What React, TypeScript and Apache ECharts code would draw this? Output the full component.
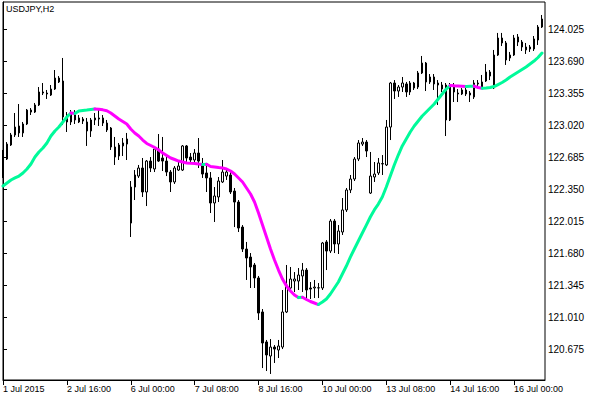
import React, { useEffect, useRef } from "react";
import * as echarts from "echarts";

// ---- data (USDJPY, H2) ----
const chartTitle = "USDJPY,H2";
const xTickLabels = [
  "1 Jul 2015", "2 Jul 16:00", "6 Jul 00:00", "7 Jul 08:00", "8 Jul 16:00",
  "10 Jul 00:00", "13 Jul 08:00", "14 Jul 16:00", "16 Jul 00:00",
];
const barsPerLabel = 16;
const yTickValues = [
  120.675, 121.01, 121.345, 121.68, 122.015, 122.35, 122.685, 123.02, 123.355, 123.69, 124.025,
];

const opens = [
  122.678, 122.667, 122.814, 122.919, 123.013, 122.94, 123.034, 123.159, 123.159, 123.233,
  123.358, 123.358, 123.337, 123.4, 123.515, 123.484, 123.128, 123.055, 123.149, 123.097,
  123.086, 123.055, 122.961, 123.076, 123.086, 123.097, 123.044, 122.992, 122.793, 122.699,
  122.804, 122.824, 121.997, 122.374, 122.489, 122.573, 122.322, 122.646, 122.563, 122.772,
  122.678, 122.646, 122.531, 122.427, 122.552, 122.552, 122.804, 122.688, 122.657, 122.73,
  122.615, 122.521, 122.469, 122.207, 122.27, 122.427, 122.489, 122.5, 122.332, 122.217,
  121.955, 121.725, 121.641, 121.558, 121.422, 121.066, 120.752, 120.605, 120.699, 120.668,
  120.699, 121.066, 121.317, 121.39, 121.39, 121.443, 121.505, 121.317, 121.317, 121.317,
  121.317, 121.799, 121.704, 122.018, 121.778, 121.903, 122.134, 122.343, 122.458, 122.667,
  122.824, 122.845, 122.311, 122.479, 122.521, 122.615, 122.605, 123.002, 123.463, 123.379,
  123.421, 123.453, 123.369, 123.463, 123.421, 123.568, 123.672, 123.474, 123.526, 123.463,
  123.4, 123.442, 123.076, 123.432, 123.348, 123.348, 123.39, 123.358, 123.317, 123.453,
  123.421, 123.484, 123.578, 123.411, 123.756, 123.934, 123.882, 123.725, 123.756, 123.945,
  123.892, 123.809, 123.84, 123.819, 123.913, 124.049,
];
const closes = [
  122.489, 122.824, 122.919, 123.002, 122.94, 123.034, 123.18, 123.18, 123.233, 123.369,
  123.369, 123.348, 123.4, 123.515, 123.474, 123.107, 123.055, 123.149, 123.076, 123.055,
  123.065, 122.961, 123.076, 123.097, 123.097, 123.044, 122.971, 122.793, 122.688, 122.814,
  122.835, 122.877, 122.374, 122.5, 122.573, 122.322, 122.646, 122.573, 122.772, 122.646,
  122.646, 122.531, 122.427, 122.573, 122.594, 122.804, 122.678, 122.657, 122.73, 122.646,
  122.51, 122.469, 122.207, 122.28, 122.437, 122.531, 122.531, 122.322, 122.217, 121.945,
  121.725, 121.631, 121.537, 121.422, 121.055, 120.741, 120.616, 120.699, 120.678, 120.71,
  121.066, 121.348, 121.411, 121.411, 121.453, 121.505, 121.296, 121.306, 121.327, 121.32,
  121.788, 121.704, 122.018, 121.778, 121.914, 122.134, 122.343, 122.458, 122.667, 122.835,
  122.845, 122.751, 122.489, 122.51, 122.626, 122.62, 123.002, 123.463, 123.379, 123.421,
  123.463, 123.369, 123.463, 123.411, 123.568, 123.672, 123.474, 123.526, 123.453, 123.442,
  123.442, 123.076, 123.442, 123.369, 123.358, 123.39, 123.348, 123.337, 123.463, 123.463,
  123.474, 123.578, 123.536, 123.756, 123.934, 123.882, 123.704, 123.756, 123.934, 123.892,
  123.84, 123.84, 123.819, 123.924, 124.049, 124.133,
];
const lows = [
  122.469, 122.657, 122.804, 122.898, 122.898, 122.898, 123.023, 123.128, 123.149, 123.222,
  123.337, 123.296, 123.327, 123.39, 123.463, 123.023, 122.95, 123.023, 123.034, 123.044,
  123.034, 122.804, 122.898, 123.023, 123.013, 123.013, 122.95, 122.762, 122.605, 122.657,
  122.699, 122.657, 121.851, 122.238, 122.469, 122.27, 122.175, 122.531, 122.531, 122.636,
  122.542, 122.489, 122.322, 122.406, 122.542, 122.542, 122.636, 122.626, 122.626, 122.573,
  122.469, 122.322, 122.102, 122.008, 122.217, 122.416, 122.448, 122.301, 121.955, 121.903,
  121.694, 121.401, 121.317, 121.317, 120.982, 120.479, 120.448, 120.417, 120.532, 120.584,
  120.678, 121.055, 121.275, 121.275, 121.296, 121.275, 121.191, 121.202, 121.212, 121.212,
  121.296, 121.505, 121.683, 121.683, 121.673, 121.872, 122.113, 122.311, 122.437, 122.646,
  122.804, 122.688, 122.301, 122.427, 122.5, 122.5, 122.594, 122.866, 123.296, 123.317,
  123.369, 123.317, 123.337, 123.39, 123.4, 123.557, 123.379, 123.453, 123.39, 123.233,
  123.369, 122.908, 123.065, 123.264, 123.264, 123.337, 123.327, 123.264, 123.296, 123.411,
  123.411, 123.474, 123.494, 123.4, 123.746, 123.85, 123.652, 123.693, 123.746, 123.85,
  123.798, 123.767, 123.788, 123.798, 123.861, 124.039,
];
const highs = [
  122.762, 122.845, 122.94, 123.149, 123.243, 123.055, 123.191, 123.201, 123.254, 123.421,
  123.463, 123.39, 123.442, 123.599, 123.536, 123.725, 123.159, 123.18, 123.18, 123.128,
  123.107, 123.097, 123.097, 123.149, 123.18, 123.128, 123.076, 123.002, 122.898, 122.835,
  122.887, 122.94, 122.437, 122.552, 122.605, 122.678, 122.657, 122.688, 122.804, 122.929,
  122.898, 122.688, 122.552, 122.594, 122.636, 122.814, 122.814, 122.73, 122.772, 122.887,
  122.678, 122.605, 122.531, 122.374, 122.479, 122.657, 122.573, 122.552, 122.364, 122.238,
  121.976, 121.799, 121.683, 121.579, 121.443, 121.097, 120.773, 120.783, 120.72, 120.773,
  121.296, 121.558, 121.537, 121.484, 121.526, 121.579, 121.526, 121.38, 121.401, 121.369,
  121.799, 121.819, 122.039, 122.039, 121.976, 122.259, 122.364, 122.5, 122.688, 122.866,
  122.887, 122.866, 122.741, 122.636, 122.678, 122.709, 123.076, 123.474, 123.494, 123.442,
  123.526, 123.474, 123.484, 123.474, 123.589, 123.746, 123.683, 123.557, 123.557, 123.494,
  123.474, 123.463, 123.463, 123.463, 123.4, 123.411, 123.411, 123.379, 123.494, 123.494,
  123.547, 123.662, 123.599, 123.809, 123.987, 123.987, 123.903, 123.788, 123.966, 123.976,
  123.913, 123.882, 123.861, 123.955, 124.07, 124.175,
];
const maValues = [
  122.385, 122.416, 122.448, 122.469, 122.489, 122.521, 122.563, 122.615, 122.688, 122.741,
  122.783, 122.835, 122.908, 122.961, 123.002, 123.055, 123.107, 123.149, 123.144, 123.17,
  123.175, 123.18, 123.186, 123.191, 123.189, 123.182, 123.172, 123.149, 123.118, 123.086,
  123.06, 123.034, 122.981, 122.94, 122.908, 122.866, 122.83, 122.809, 122.788, 122.762,
  122.73, 122.704, 122.678, 122.662, 122.646, 122.636, 122.626, 122.623, 122.621, 122.615,
  122.61, 122.612, 122.589, 122.584, 122.578, 122.573, 122.563, 122.542, 122.51, 122.469,
  122.427, 122.364, 122.301, 122.217, 122.102, 121.976, 121.851, 121.725, 121.61, 121.505,
  121.411, 121.338, 121.286, 121.244, 121.217, 121.22, 121.197, 121.176, 121.16, 121.144,
  121.17, 121.202, 121.254, 121.317, 121.38, 121.464, 121.547, 121.641, 121.725, 121.809,
  121.893, 121.976, 122.06, 122.134, 122.196, 122.27, 122.374, 122.489, 122.605, 122.709,
  122.804, 122.877, 122.95, 123.013, 123.065, 123.118, 123.159, 123.201, 123.243, 123.296,
  123.348, 123.4, 123.437, 123.434, 123.432, 123.43, 123.427, 123.429, 123.43, 123.416,
  123.408, 123.411, 123.416, 123.426, 123.447, 123.468, 123.494, 123.526, 123.552, 123.578,
  123.604, 123.631, 123.662, 123.693, 123.73, 123.777,
];

const FONT = "'Liberation Sans', Arial, sans-serif";
const UP_COLOR = "#00FA9A";
const DOWN_COLOR = "#FF00FF";

function buildMaSeries() {
  const runs: { dir: "up" | "down"; from: number; to: number }[] = [];
  for (let i = 1; i < maValues.length; i++) {
    const dir = maValues[i] >= maValues[i - 1] ? "up" : "down";
    const last = runs[runs.length - 1];
    if (last && last.dir === dir) last.to = i;
    else runs.push({ dir, from: i - 1, to: i });
  }
  return runs.map((r) => {
    const data: number[][] = [];
    for (let i = r.from; i <= r.to; i++) data.push([i, maValues[i]]);
    return {
      type: "line",
      data,
      symbol: "none",
      showSymbol: false,
      silent: true,
      z: 5,
      lineStyle: { width: 3, color: r.dir === "up" ? UP_COLOR : DOWN_COLOR, cap: "round", join: "round" },
    };
  });
}

export default function App() {
  const ref = useRef<HTMLDivElement>(null);
  useEffect(() => {
    if (!ref.current) return;
    const chart = echarts.init(ref.current, null, { renderer: "svg" });
    const candleData = opens.map((o, i) => [i, o, closes[i], lows[i], highs[i]]);
    const xTickValues = xTickLabels.map((_, k) => k * barsPerLabel);
    chart.setOption({
      animation: false,
      backgroundColor: "#ffffff",
      textStyle: { fontFamily: FONT },
      title: {
        text: chartTitle,
        left: 6,
        top: 4,
        padding: 0,
        textStyle: { fontSize: 9, fontWeight: "normal", color: "#000", fontFamily: FONT },
      },
      grid: { left: 2, top: 2, right: 52, bottom: 20, show: true, borderColor: "#000", borderWidth: 1 },
      xAxis: {
        type: "value",
        min: 0,
        max: opens.length - 0.25,
        splitLine: { show: false },
        axisLine: { show: true, onZero: false, lineStyle: { color: "#000", width: 1 } },
        axisTick: { show: true, length: 5, customValues: xTickValues, lineStyle: { color: "#000" } },
        axisLabel: {
          customValues: xTickValues,
          formatter: (v: number) => xTickLabels[Math.round(v / barsPerLabel)] ?? "",
          align: "left",
          margin: 4,
          color: "#000",
          fontSize: 9,
          fontFamily: FONT,
        },
      },
      yAxis: {
        type: "value",
        position: "right",
        min: 120.354,
        max: 124.311,
        scale: true,
        splitLine: { show: false },
        axisLine: { show: true, lineStyle: { color: "#000", width: 1 } },
        axisTick: { show: true, length: 4, customValues: yTickValues, lineStyle: { color: "#000" } },
        axisLabel: {
          customValues: yTickValues,
          formatter: (v: number) => v.toFixed(3),
          margin: 3,
          color: "#000",
          fontSize: 10,
          fontFamily: FONT,
        },
      },
      series: [
        {
          type: "candlestick",
          data: candleData,
          encode: { x: 0, y: [1, 2, 3, 4] },
          barWidth: 2,
          silent: true,
          itemStyle: {
            color: "#ffffff",
            color0: "#000000",
            borderColor: "#000000",
            borderColor0: "#000000",
            borderWidth: 1,
          },
        },
        ...buildMaSeries(),
      ],
    });
    return () => chart.dispose();
  }, []);
  return (
    <div
      ref={ref}
      style={{ position: "absolute", left: 0, top: 0, width: 597, height: 400, background: "#fff" }}
    />
  );
}
